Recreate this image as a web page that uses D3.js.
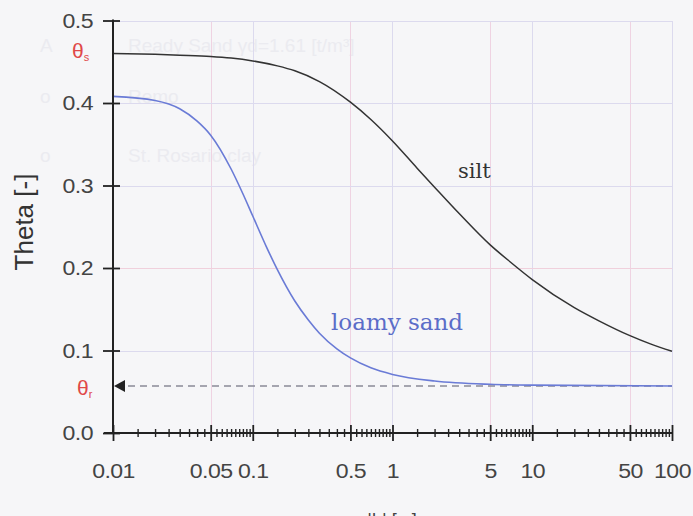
<!DOCTYPE html>
<html>
<head>
<meta charset="utf-8">
<script src="https://cdn.jsdelivr.net/npm/d3@7"></script>
<style>
  body { margin: 0; background: #f6f6f8; }
  svg { display: block; }
</style>
</head>
<body>
<div id="chart"></div>
<script>
// values: |h| [m] vs Theta [-]
var siltH = [0.01, 0.02, 0.03, 0.05, 0.07, 0.1, 0.15, 0.2, 0.3, 0.5, 0.7, 1, 1.5, 2, 3, 5, 7, 10, 20, 30, 50, 70, 100];
var siltTheta = [0.460, 0.459, 0.458, 0.4565, 0.4545, 0.451, 0.445, 0.439, 0.426, 0.401, 0.380, 0.354, 0.321, 0.298, 0.266, 0.228, 0.207, 0.186, 0.152, 0.136, 0.118, 0.108, 0.099];

var sandH = [0.01, 0.02, 0.03, 0.04, 0.05, 0.07, 0.085, 0.1, 0.125, 0.15, 0.2, 0.25, 0.3, 0.4, 0.5, 0.7, 1, 2, 5, 10, 100];
var sandTheta = [0.408, 0.403, 0.393, 0.378, 0.361, 0.320, 0.290, 0.263, 0.226, 0.198, 0.160, 0.137, 0.121, 0.102, 0.091, 0.079, 0.071, 0.063, 0.059, 0.058, 0.057];

var thetaS = 0.46;   // silt saturated
var thetaR = 0.057;  // residual (dashed line)

var xLabels = [0.01, 0.05, 0.1, 0.5, 1, 5, 10, 50, 100];
var xDecades = [0.01, 0.1, 1, 10];
var xMinorSteps = [1.5, 2, 2.5, 3, 3.5, 4, 4.5, 5.5, 6, 6.5, 7, 7.5, 8, 8.5, 9, 9.5];
var yTicks = [0, 0.1, 0.2, 0.3, 0.4, 0.5];
var xGrid = [0.05, 0.1, 0.5, 1, 5, 10, 50, 100];

var W = 693, H = 516;
var pLeft = 113, pRight = 672, pTop = 20.5, pBottom = 433;
var stretch = 1.1; // tick labels look a bit wide in the picture

var svg = d3.select("#chart").append("svg")
  .attr("width", W)
  .attr("height", H);

// faint watermark text from the page behind the chart
var wm = svg.append("g")
  .attr("font-family", "Liberation Sans, Arial, sans-serif")
  .attr("font-size", 19)
  .attr("fill", "#ebebf0");
wm.append("text").attr("x", 40).attr("y", 52).text("A");
wm.append("text").attr("x", 128).attr("y", 52).text("Ready Sand  γd=1.61 [t/m³]");
wm.append("text").attr("x", 40).attr("y", 103).text("o");
wm.append("text").attr("x", 128).attr("y", 103).text("Remo");
wm.append("text").attr("x", 40).attr("y", 162).text("o");
wm.append("text").attr("x", 128).attr("y", 162).text("St. Rosario clay");

var x = d3.scaleLog().domain([0.01, 100]).range([pLeft, pRight]);
var y = d3.scaleLinear().domain([0, 0.5]).range([pBottom, pTop]);

// grid
var grid = svg.append("g").attr("stroke-width", 1).attr("shape-rendering", "crispEdges");
grid.selectAll(".vg").data(xGrid).enter().append("line")
  .attr("x1", d => Math.round(x(d)) + 0.5).attr("x2", d => Math.round(x(d)) + 0.5)
  .attr("y1", pTop).attr("y2", pBottom)
  .attr("stroke", (d, i) => i % 2 == 0 ? "#efd3e2" : "#dcdaee");
grid.selectAll(".hg").data(yTicks.slice(1)).enter().append("line")
  .attr("x1", pLeft).attr("x2", pRight)
  .attr("y1", d => Math.round(y(d)) + 0.5).attr("y2", d => Math.round(y(d)) + 0.5)
  .attr("stroke", d => d == 0.2 ? "#f0d0dc" : "#dcdaee");

// residual water content, dashed
svg.append("line")
  .attr("x1", pLeft + 15).attr("x2", pRight)
  .attr("y1", y(thetaR)).attr("y2", y(thetaR))
  .attr("stroke", "#8a8a96")
  .attr("stroke-width", 1.6)
  .attr("stroke-dasharray", "7,5");
svg.append("path")
  .attr("d", "M" + (pLeft + 1) + "," + y(thetaR) + " l11,-6 l0,12 z")
  .attr("fill", "#222");

var line = d3.line()
  .x(d => x(d[0]))
  .y(d => y(d[1]))
  .curve(d3.curveMonotoneX);

svg.append("path")
  .datum(d3.zip(sandH, sandTheta))
  .attr("d", line)
  .attr("fill", "none")
  .attr("stroke", "#6a7bd6")
  .attr("stroke-width", 1.6);

svg.append("path")
  .datum(d3.zip(siltH, siltTheta))
  .attr("d", line)
  .attr("fill", "none")
  .attr("stroke", "#333")
  .attr("stroke-width", 1.5);

// axes
var minorTicks = [];
xDecades.forEach(function(dec) {
  xMinorSteps.forEach(function(m) { minorTicks.push(dec * m); });
});

var xMinor = svg.append("g")
  .attr("transform", "translate(0," + pBottom + ")")
  .call(d3.axisBottom(x).tickValues(minorTicks).tickSize(4).tickFormat(""));
xMinor.select(".domain").remove();
xMinor.selectAll(".tick line").attr("y1", -4).attr("stroke", "#222").attr("stroke-width", 1.4);

var xMajor = svg.append("g")
  .attr("transform", "translate(0," + pBottom + ")")
  .call(d3.axisBottom(x).tickValues(xLabels).tickSize(8).tickPadding(22).tickFormat(d => String(d)));
xMajor.select(".domain").remove();
xMajor.selectAll(".tick line").attr("y1", -8).attr("stroke", "#222").attr("stroke-width", 1.8);
xMajor.selectAll(".tick text")
  .attr("font-family", "Liberation Sans, Arial, sans-serif")
  .attr("font-size", 21)
  .attr("letter-spacing", -0.5)
  .attr("transform", "scale(" + stretch + ",1)")
  .attr("fill", "#444");

var yAxis = svg.append("g")
  .attr("transform", "translate(" + pLeft + ",0)")
  .call(d3.axisLeft(y).tickValues(yTicks).tickSize(10).tickPadding(10).tickFormat(d3.format(".1f")));
yAxis.select(".domain").remove();
yAxis.selectAll(".tick line").attr("x1", 7).attr("stroke", "#222").attr("stroke-width", 1.8);
yAxis.selectAll(".tick text")
  .attr("font-family", "Liberation Sans, Arial, sans-serif")
  .attr("font-size", 21)
  .attr("letter-spacing", -0.5)
  .attr("x", -20 / stretch)
  .attr("transform", "scale(" + stretch + ",1)")
  .attr("fill", "#444");

svg.append("line")
  .attr("x1", pLeft - 9).attr("x2", pRight)
  .attr("y1", pBottom).attr("y2", pBottom)
  .attr("stroke", "#222").attr("stroke-width", 2);
svg.append("line")
  .attr("x1", pLeft).attr("x2", pLeft)
  .attr("y1", pTop - 1).attr("y2", pBottom + 1)
  .attr("stroke", "#222").attr("stroke-width", 2);

// titles
svg.append("text")
  .attr("transform", "translate(33," + 222 + ") rotate(-90)")
  .attr("text-anchor", "middle")
  .attr("font-family", "Liberation Sans, Arial, sans-serif")
  .attr("font-size", 26)
  .attr("fill", "#333")
  .text("Theta [-]");
svg.append("text")
  .attr("x", 392).attr("y", 526)
  .attr("text-anchor", "middle")
  .attr("font-family", "Liberation Sans, Arial, sans-serif")
  .attr("font-size", 18)
  .attr("fill", "#444")
  .text("|h| [m]");

// theta_s, theta_r labels
var ts = svg.append("text").attr("x", 72).attr("y", 58)
  .attr("font-family", "Liberation Sans, Arial, sans-serif")
  .attr("font-size", 21).attr("fill", "#e04848");
ts.append("tspan").text("θ");
ts.append("tspan").attr("font-size", 11).attr("dy", 3).text("s");

var tr = svg.append("text").attr("x", 77).attr("y", 395)
  .attr("font-family", "Liberation Sans, Arial, sans-serif")
  .attr("font-size", 21).attr("fill", "#e04848");
tr.append("tspan").text("θ");
tr.append("tspan").attr("font-size", 11).attr("dy", 3).text("r");

// curve labels
svg.append("text")
  .attr("x", 458).attr("y", 178)
  .attr("font-family", "DejaVu Serif, serif")
  .attr("font-size", 21)
  .attr("fill", "#333")
  .text("silt");
svg.append("text")
  .attr("x", 331).attr("y", 330)
  .attr("font-family", "DejaVu Serif, serif")
  .attr("font-size", 23)
  .attr("fill", "#5b6dc8")
  .text("loamy sand");
</script>
</body>
</html>
